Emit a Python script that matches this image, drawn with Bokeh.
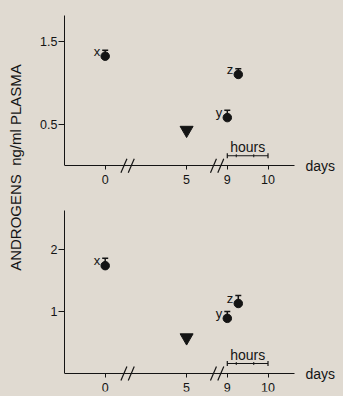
import numpy as np
from bokeh.plotting import figure
from bokeh.layouts import row, column
from bokeh.models import FixedTicker, Label, ColumnDataSource
from bokeh.core.properties import value
from bokeh.embed import file_html
from bokeh.resources import INLINE

# ---- data ----
tick_days = [0, 5, 9, 10]
tick_labels = ["0", "5", "9", "10"]
point_names = ["x", "y", "z"]
point_days = [0, 9, 9.27]
tri_day = 5

top_vals = [1.32, 0.58, 1.10]
top_upper = [1.39, 0.67, 1.17]
top_tri = 0.43
top_yticks = [0.5, 1.5]
top_ylabels = ["0.5", "1.5"]

bot_vals = [1.74, 0.89, 1.13]
bot_upper = [1.86, 1.00, 1.26]
bot_tri = 0.58
bot_yticks = [1, 2]
bot_ylabels = ["1", "2"]

# broken day axis: 0 .. 5 .. 9 .. 10
scale_days = [0, 5, 9, 10]
scale_pos = [0, 2, 3, 4]


def to_pos(d):
    return np.interp(d, scale_days, scale_pos)


BG = "#e0dad1"
INK = "#141414"
FONT = "Liberation Sans"

X0, X1 = -1.0, 5.855
PPX = 279 / (X1 - X0)


def panel(vals, upper, tri, yticks, ylabels, ytop, ybot, border_top):
    h = 198
    p = figure(width=313, height=h, x_range=(X0, X1), y_range=(ybot, ytop),
               output_backend="svg", toolbar_location=None,
               min_border_left=34, min_border_right=0,
               min_border_top=border_top, min_border_bottom=5)
    ppu = (h - border_top - 5) / (ytop - ybot)
    p.background_fill_color = BG
    p.border_fill_color = BG
    p.outline_line_color = None
    p.grid.visible = False

    # x axis
    xa = p.xaxis[0]
    xa.fixed_location = 0
    xa.bounds = (X0, 4.65)
    tpos = [float(v) for v in to_pos(tick_days)]
    xa.ticker = FixedTicker(ticks=tpos)
    xa.major_label_overrides = {t: l for t, l in zip(tpos, tick_labels)}
    xa.minor_tick_line_color = None
    xa.major_tick_in = 0
    xa.major_tick_out = 4
    xa.major_label_standoff = 5
    xa.axis_line_color = INK
    xa.major_tick_line_color = INK
    xa.major_label_text_font = FONT
    xa.major_label_text_font_size = "12.5px"
    xa.major_label_text_color = INK

    # y axis
    ya = p.yaxis[0]
    ya.bounds = (0, ytop)
    ya.ticker = FixedTicker(ticks=yticks)
    ya.major_label_overrides = {float(t): l for t, l in zip(yticks, ylabels)}
    ya.minor_tick_line_color = None
    ya.major_tick_in = 0
    ya.major_tick_out = 6
    ya.major_label_standoff = 1
    ya.axis_line_color = INK
    ya.major_tick_line_color = INK
    ya.major_label_text_font = FONT
    ya.major_label_text_font_size = "12.5px"
    ya.major_label_text_color = INK
    ya.major_label_text_baseline = "alphabetic"

    # break marks
    dx = 3 / PPX
    dy = 7 / ppu
    bx = [0.46, 0.64, 2.66, 2.84]
    p.segment(x0=[b - dx for b in bx], y0=[-dy] * 4, x1=[b + dx for b in bx], y1=[dy] * 4,
              line_color=INK, line_width=1.2)

    # error caps
    px = [float(v) for v in to_pos(point_days)]
    cw = 3 / PPX
    p.segment(x0=px, y0=vals, x1=px, y1=upper, line_color=INK, line_width=1.5)
    p.segment(x0=[x - cw for x in px], y0=upper, x1=[x + cw for x in px], y1=upper,
              line_color=INK, line_width=1.5)
    # points
    src = ColumnDataSource(dict(x=px, y=vals, name=point_names))
    p.scatter("x", "y", source=src, size=8.5, color=INK)
    p.text("x", "y", text="name", source=src, x_offset=-5, y_offset=-5,
           text_align="right", text_baseline="middle", text_font=value(FONT),
           text_font_size="13px", text_color=INK)
    # triangle
    p.scatter(x=[float(to_pos(tri_day))], y=[tri], marker="inverted_triangle",
              size=13, color=INK)

    # hours bracket
    by = 10 / ppu
    th = 2.5 / ppu
    p.segment(x0=[3], y0=[by], x1=[4], y1=[by], line_color=INK, line_width=1.2)
    p.segment(x0=[3, 4], y0=[by - th] * 2, x1=[3, 4], y1=[by + th] * 2,
              line_color=INK, line_width=1.2)
    p.segment(x0=[3.22, 3.65], y0=[by - th * 0.6] * 2, x1=[3.22, 3.65], y1=[by + th * 0.6] * 2,
              line_color=INK, line_width=1)
    p.add_layout(Label(x=3.5, y=by, text="hours", y_offset=1, text_align="center",
                       text_baseline="bottom", text_font=FONT, text_font_size="14px",
                       text_color=INK))
    p.add_layout(Label(x=4.92, y=0, text="days", text_align="left", text_baseline="middle",
                       text_font=FONT, text_font_size="14px", text_color=INK))
    return p


top = panel(top_vals, top_upper, top_tri, top_yticks, top_ylabels, 1.81, -0.334, 15)
bot = panel(bot_vals, bot_upper, bot_tri, bot_yticks, bot_ylabels, 2.63, -0.29, 12)

lab = figure(width=30, height=396, x_range=(0, 30), y_range=(0, 396),
             output_backend="svg", toolbar_location=None,
             min_border=0)
lab.axis.visible = False
lab.grid.visible = False
lab.outline_line_color = None
lab.background_fill_color = BG
lab.border_fill_color = BG
lab.add_layout(Label(x=15, y=229, text="ANDROGENS\u00a0\u00a0ng/ml PLASMA", angle=np.pi / 2,
                     text_align="center", text_baseline="middle", text_font=FONT,
                     text_font_size="15px", text_color=INK))

layout = row(lab, column(top, bot, spacing=0), spacing=0)
layout.background = BG

open("out.html", "w").write(file_html(layout, INLINE))
